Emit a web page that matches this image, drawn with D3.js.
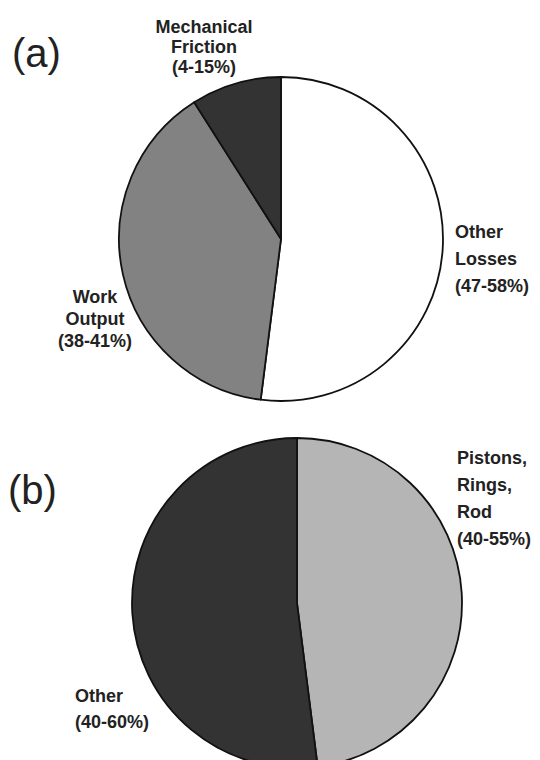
<!DOCTYPE html>
<html>
<head>
<meta charset="utf-8">
<script src="https://cdn.jsdelivr.net/npm/d3@7"></script>
<style>
  html, body { margin: 0; padding: 0; background: #fff; }
  svg { display: block; }
  text { font-family: "Liberation Sans", Arial, Helvetica, sans-serif; fill: #222; }
</style>
</head>
<body>
<svg id="chart" width="540" height="760"></svg>
<script>
// (a) Fuel energy split
const energyCategories = ["Other Losses", "Work Output", "Mechanical Friction"];
const energyValues = [52, 39, 9];
const energyRanges = ["(47-58%)", "(38-41%)", "(4-15%)"];
const energyColors = ["#ffffff", "#828282", "#333333"];

// (b) Friction split
const frictionCategories = ["Pistons, Rings, Rod", "Other"];
const frictionValues = [48, 52];
const frictionRanges = ["(40-55%)", "(40-60%)"];
const frictionColors = ["#b5b5b5", "#333333"];

const svg = d3.select("#chart");

function drawPie(cfg) {
  const g = svg.append("g").attr("transform", `translate(${cfg.cx},${cfg.cy})`);
  const pie = d3.pie().sort(null).startAngle(0).endAngle(2 * Math.PI);
  const arc = d3.arc().innerRadius(0).outerRadius(cfg.r);
  const arcs = pie(cfg.values);

  g.selectAll("path.slice")
    .data(arcs)
    .join("path")
    .attr("class", "slice")
    .attr("d", arc)
    .attr("fill", (d, i) => cfg.colors[i])
    .attr("stroke", "#111")
    .attr("stroke-width", 1.8)
    .attr("stroke-linejoin", "round");

  // panel tag
  svg.append("text")
    .attr("x", cfg.tag.x)
    .attr("y", cfg.tag.y)
    .attr("font-size", 40)
    .text(cfg.tag.text);

  // slice labels: category name lines followed by the range line
  cfg.labels.forEach((lab, i) => {
    const t = g.append("text")
      .attr("text-anchor", lab.anchor)
      .attr("font-size", 18)
      .attr("font-weight", "bold");
    const lines = lab.lines.concat([cfg.ranges[i]]);
    lines.forEach((ln, k) => {
      t.append("tspan")
        .attr("x", lab.dx)
        .attr("y", lab.dy + k * lab.step)
        .text(ln);
    });
  });
}

drawPie({
  cx: 281, cy: 239, r: 162,
  values: energyValues,
  colors: energyColors,
  ranges: energyRanges,
  tag: { x: 12, y: 67, text: "(a)" },
  labels: [
    { lines: ["Other", "Losses"], anchor: "start", dx: 174, dy: -1, step: 27 },
    { lines: ["Work", "Output"], anchor: "middle", dx: -186, dy: 64, step: 22 },
    { lines: ["Mechanical", "Friction"], anchor: "middle", dx: -77, dy: -206, step: 20 }
  ]
});

drawPie({
  cx: 297, cy: 603, r: 165,
  values: frictionValues,
  colors: frictionColors,
  ranges: frictionRanges,
  tag: { x: 8, y: 504, text: "(b)" },
  labels: [
    { lines: ["Pistons,", "Rings,", "Rod"], anchor: "start", dx: 160, dy: -139, step: 27 },
    { lines: ["Other"], anchor: "start", dx: -222, dy: 99, step: 26 }
  ]
});
</script>
</body>
</html>
